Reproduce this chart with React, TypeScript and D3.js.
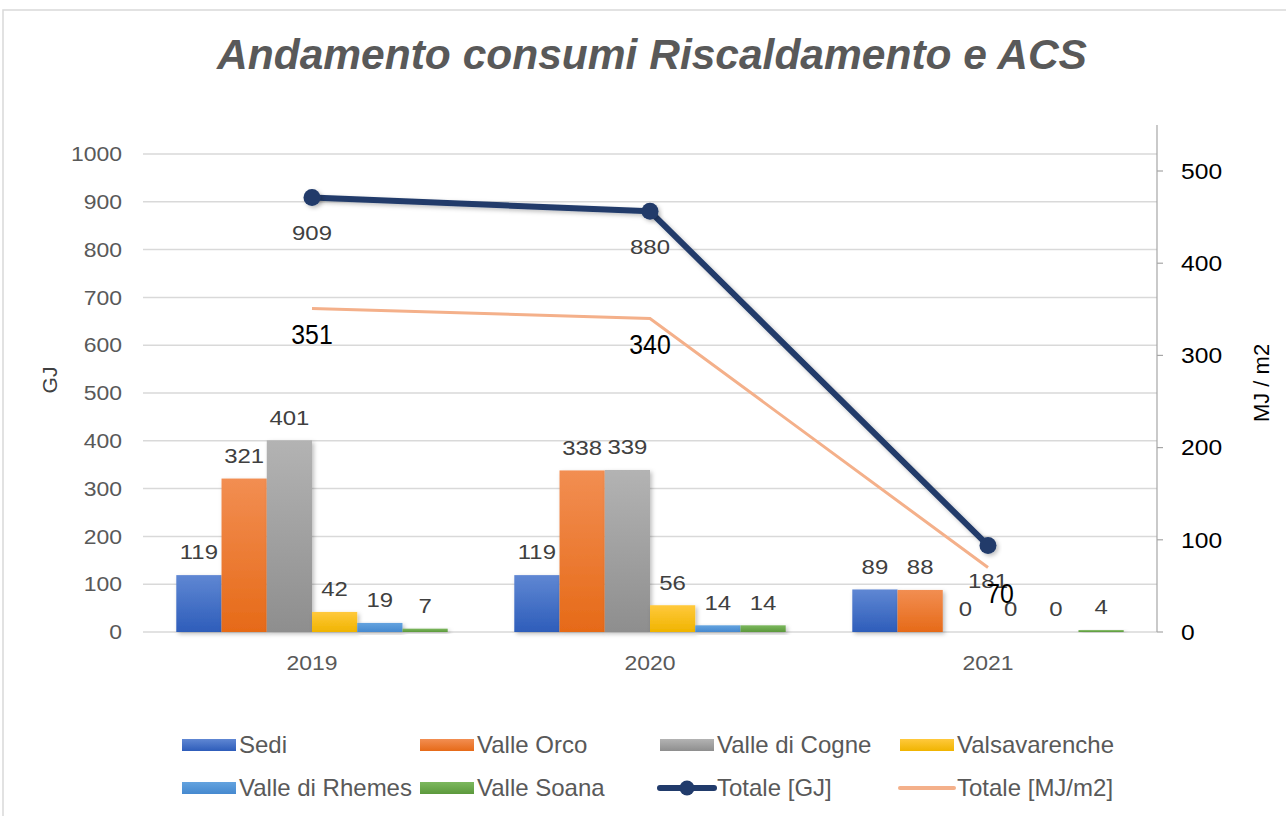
import React from "react";
import * as d3 from "d3";

const years = ["2019", "2020", "2021"];
const seriesNames = ["Sedi", "Valle Orco", "Valle di Cogne", "Valsavarenche", "Valle di Rhemes", "Valle Soana"];
const sedi = [119, 119, 89];
const valleOrco = [321, 338, 88];
const valleCogne = [401, 339, 0];
const valsavarenche = [42, 56, 0];
const valleRhemes = [19, 14, 0];
const valleSoana = [7, 14, 4];
const totaleGJ = [909, 880, 181];
const totaleMJ = [351, 340, 70];
const leftTicks = [0, 100, 200, 300, 400, 500, 600, 700, 800, 900, 1000];
const rightTicks = [0, 100, 200, 300, 400, 500];

const barSeries = [sedi, valleOrco, valleCogne, valsavarenche, valleRhemes, valleSoana];
const gradients: [string, string][] = [
  ["#5F87D3", "#2E5DBA"],
  ["#F28E52", "#E66A18"],
  ["#B3B3B3", "#8E8E8E"],
  ["#FFC93C", "#F0B400"],
  ["#64A3DF", "#4689CF"],
  ["#7CB85E", "#5C993C"],
];
const GJ_COLOR = "#213B6B";
const MJ_COLOR = "#F4B08A";
const FONT = "'Liberation Sans', Arial, sans-serif";

type TProps = {
  x: number; y: number; size: number; sx?: number; anchor?: string; fill?: string;
  weight?: string; italic?: boolean; children: React.ReactNode;
};
function T({ x, y, size, sx = 1, anchor = "middle", fill = "#404040", weight, italic, children }: TProps) {
  return (
    <text
      transform={`translate(${x},${y}) scale(${sx},1)`}
      textAnchor={anchor as any}
      fontSize={size}
      dy="0.35em"
      fill={fill}
      fontWeight={weight}
      fontStyle={italic ? "italic" : undefined}
    >
      {children}
    </text>
  );
}

export default function App() {
  const W = 1286, H = 816;
  const plotLeft = 143, plotRight = 1157, plotTop = 125, plotBottom = 632;
  const yL = d3.scaleLinear().domain([0, 1000]).range([plotBottom, 154]);
  const leftMax = yL.invert(plotTop);
  yL.domain([0, leftMax]).range([plotBottom, plotTop]);
  const yR = d3.scaleLinear().domain([0, 500]).range([plotBottom, 171]);
  const rightMax = yR.invert(plotTop);
  yR.domain([0, rightMax]).range([plotBottom, plotTop]);

  const x0 = d3.scaleBand<string>().domain(years).range([plotLeft, plotRight]).paddingInner(0.197).paddingOuter(0.0985);
  const x1 = d3.scaleBand<string>().domain(seriesNames).range([0, x0.bandwidth()]);
  const cx = (y: string) => (x0(y) as number) + x0.bandwidth() / 2;

  const lineGJ = d3.line<number>().x((_, i) => cx(years[i])).y((d) => yL(d));
  const lineMJ = d3.line<number>().x((_, i) => cx(years[i])).y((d) => yR(d));

  const legendItems = [
    ...seriesNames.map((n, i) => ({ name: n, type: "bar", idx: i })),
    { name: "Totale [GJ]", type: "gj", idx: 6 },
    { name: "Totale [MJ/m2]", type: "mj", idx: 7 },
  ];
  const legendCols = [182, 420, 660, 900];
  const legendRows = [745, 788];

  return (
    <svg width={W} height={H} style={{ position: "absolute", left: 0, top: 0, background: "#fff" }} fontFamily={FONT}>
      <defs>
        {gradients.map((g, i) => (
          <linearGradient key={i} id={`g${i}`} x1="0" y1="0" x2="0" y2="1">
            <stop offset="0%" stopColor={g[0]} />
            <stop offset="100%" stopColor={g[1]} />
          </linearGradient>
        ))}
        <filter id="shadow" x="-20%" y="-20%" width="150%" height="150%">
          <feDropShadow dx="2" dy="2" stdDeviation="2" floodColor="#000" floodOpacity="0.25" />
        </filter>
      </defs>
      <rect x={0} y={0} width={W} height={H} fill="#fff" />
      <rect x={3} y={10} width={1400} height={900} fill="none" stroke="#D9D9D9" strokeWidth={1.5} />
      <text x={652} y={69} textAnchor="middle" fontSize={42.5} fontWeight="bold" fontStyle="italic" fill="#595959">
        Andamento consumi Riscaldamento e ACS
      </text>

      {leftTicks.map((t) => (
        <g key={t}>
          <line x1={plotLeft} x2={plotRight} y1={yL(t)} y2={yL(t)} stroke="#D9D9D9" strokeWidth={1.5} />
          <T x={122} y={yL(t)} size={20.5} sx={1.12} anchor="end" fill="#595959">{t}</T>
        </g>
      ))}

      <line x1={plotRight} x2={plotRight} y1={plotTop} y2={plotBottom} stroke="#A6A6A6" strokeWidth={1.2} />
      {rightTicks.map((t) => (
        <g key={t}>
          <line x1={plotRight} x2={plotRight + 6} y1={yR(t)} y2={yR(t)} stroke="#A6A6A6" strokeWidth={1.2} />
          <T x={1181} y={yR(t)} size={22} sx={1.12} anchor="start" fill="#000">{t}</T>
        </g>
      ))}

      <text transform={`translate(57,380) rotate(-90)`} textAnchor="middle" fontSize={21} fill="#404040">GJ</text>
      <text transform={`translate(1269,383) rotate(-90)`} textAnchor="middle" fontSize={22} fill="#000">MJ / m2</text>

      {years.map((y) => (
        <T key={y} x={cx(y)} y={663} size={20.5} sx={1.12} fill="#595959">{y}</T>
      ))}

      {barSeries.map((vals, si) =>
        vals.map((v, i) => {
          const bx = (x0(years[i]) as number) + (x1(seriesNames[si]) as number);
          const by = yL(v);
          return (
            <g key={`${si}-${i}`}>
              {v > 0 && (
                <rect x={bx} y={by} width={x1.bandwidth()} height={plotBottom - by} fill={`url(#g${si})`} filter="url(#shadow)" />
              )}
              <T x={bx + x1.bandwidth() / 2} y={by - 23} size={21} sx={1.14}>{v}</T>
            </g>
          );
        })
      )}

      <path d={lineMJ(totaleMJ) || ""} fill="none" stroke={MJ_COLOR} strokeWidth={3} />
      <path d={lineGJ(totaleGJ) || ""} fill="none" stroke={GJ_COLOR} strokeWidth={6} strokeLinejoin="round" filter="url(#shadow)" />
      {totaleGJ.map((v, i) => (
        <circle key={i} cx={cx(years[i])} cy={yL(v)} r={8.5} fill={GJ_COLOR} filter="url(#shadow)" />
      ))}
      {totaleGJ.map((v, i) => (
        <T key={i} x={cx(years[i])} y={yL(v) + 35} size={21} sx={1.14}>{v}</T>
      ))}
      {totaleMJ.map((v, i) => (
        <T key={i} x={cx(years[i]) + (i === 2 ? 12 : 0)} y={yR(v) + 26} size={27} sx={0.92} fill="#000">{v}</T>
      ))}

      {legendItems.map((it, k) => {
        const lx = legendCols[k % 4];
        const ly = legendRows[Math.floor(k / 4)];
        return (
          <g key={it.name}>
            {it.type === "bar" && <rect x={lx} y={ly - 6} width={54} height={12} fill={`url(#g${it.idx})`} />}
            {it.type === "gj" && (
              <g>
                <line x1={lx} x2={lx + 54} y1={ly} y2={ly} stroke={GJ_COLOR} strokeWidth={6} strokeLinecap="round" />
                <circle cx={lx + 27} cy={ly} r={7.5} fill={GJ_COLOR} />
              </g>
            )}
            {it.type === "mj" && <line x1={lx} x2={lx + 54} y1={ly} y2={ly} stroke={MJ_COLOR} strokeWidth={4} strokeLinecap="round" />}
            <text x={lx + 57} y={ly} dy="0.35em" fontSize={24} fill="#595959">{it.name}</text>
          </g>
        );
      })}
    </svg>
  );
}
